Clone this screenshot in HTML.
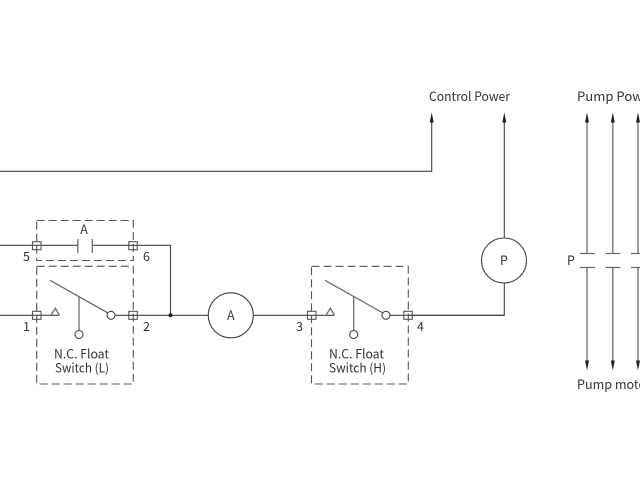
<!DOCTYPE html>
<html><head><meta charset="utf-8"><style>
html,body{margin:0;padding:0;background:#fff;width:640px;height:480px;overflow:hidden}
svg{display:block}
text{font-family:"Noto Sans CJK JP","DejaVu Sans",sans-serif;font-size:12.5px;fill:#333}
.l{stroke:#444;stroke-width:1.1;fill:none}
.g{stroke:#6c6c6c;stroke-width:1.3;fill:none}
.d{stroke:#555;stroke-width:1.1;fill:none;stroke-dasharray:8 4}
.c{stroke:#444;stroke-width:1.1;fill:#fff}
.b{stroke:#555;stroke-width:1.1;fill:none}
</style></head><body>
<svg width="640" height="480" viewBox="0 0 640 480" xmlns="http://www.w3.org/2000/svg">
<path class="l" d="M0 171.300H431.700V120"/>
<path d="M431.700 112.500l-2 10h4z" fill="#222"/>
<text x="429" y="101" textLength="81" lengthAdjust="spacingAndGlyphs">Control Power</text>

<path class="l" d="M504.300 238V120"/>
<path d="M504.300 112.500l-2 10h4z" fill="#222"/>
<path class="l" d="M504.300 283V315.300H410"/>
<circle class="c" cx="504" cy="260.500" r="22.500"/>
<text x="504" y="265" text-anchor="middle">P</text>

<rect class="d" x="36.700" y="220.500" width="96.600" height="40"/>
<rect class="d" x="36.700" y="266.300" width="96.600" height="117.700"/>
<rect class="d" x="311.500" y="266.300" width="96.800" height="117.700"/>

<path class="l" d="M0 245.300H78M92.300 245.300H170.500V315.300"/>
<path class="g" d="M77.800 239V253M92.300 239V253"/>
<rect class="b" x="32.500" y="241.700" width="8.500" height="8"/>
<rect class="b" x="128.800" y="241.700" width="8.500" height="8"/>
<text x="84" y="234" text-anchor="middle">A</text>
<text x="23" y="261">5</text>
<text x="143" y="261">6</text>

<path class="l" d="M0 315.300H59.500M115 315.300H208M253 315.300H334.500M390 315.300H504"/>
<circle cx="170.500" cy="315.300" r="2" fill="#222"/>
<rect class="b" x="32.500" y="311.300" width="8.500" height="8"/>
<rect class="b" x="128.800" y="311.300" width="8.500" height="8"/>
<rect class="b" x="307.500" y="311.300" width="8.500" height="8"/>
<rect class="b" x="403.800" y="311.300" width="8.500" height="8"/>

<path class="g" d="M51 315.300L55.300 308.300L59.500 315.300"/>
<path class="g" d="M326 315.300L330.300 308.300L334.500 315.300"/>
<path class="g" d="M50 280.300L108 313"/>
<path class="g" d="M79 297V330.500"/>
<circle class="c" cx="111" cy="315.300" r="4"/>
<circle class="c" cx="79" cy="334.500" r="4"/>
<path class="g" d="M325 280.300L383 313"/>
<path class="g" d="M353.700 297V330.500"/>
<circle class="c" cx="386" cy="315.300" r="4"/>
<circle class="c" cx="353.700" cy="334.500" r="4"/>

<text x="23" y="331">1</text>
<text x="143" y="331">2</text>
<text x="296" y="331">3</text>
<text x="417" y="331">4</text>
<text x="54" y="358.500" textLength="55" lengthAdjust="spacingAndGlyphs">N.C. Float</text>
<text x="55" y="372.500" textLength="54" lengthAdjust="spacingAndGlyphs">Switch (L)</text>
<text x="329" y="358.500" textLength="55" lengthAdjust="spacingAndGlyphs">N.C. Float</text>
<text x="329" y="372.500" textLength="57" lengthAdjust="spacingAndGlyphs">Switch (H)</text>
<circle class="c" cx="230.800" cy="315.300" r="22.500"/>
<text x="230.800" y="320" text-anchor="middle">A</text>

<text x="577" y="101" textLength="78" lengthAdjust="spacingAndGlyphs">Pump Power</text>
<text x="577" y="389" textLength="74" lengthAdjust="spacingAndGlyphs">Pump motor</text>
<text x="567" y="265">P</text>
<path class="g" d="M587 120V253.500M587 267.500V363M612.800 120V253.500M612.800 267.500V363M638 120V253.500M638 267.500V363"/>
<path class="g" d="M580 253.500H595M580 267.500H595M605.500 253.500H620.500M605.500 267.500H620.500M631 253.500H646M631 267.500H646"/>
<path d="M587 112.500l-2 10h4zM612.800 112.500l-2 10h4zM638 112.500l-2 10h4zM587 370.500l-2-10h4zM612.800 370.500l-2-10h4zM638 370.500l-2-10h4z" fill="#222"/>
</svg>
</body></html>
